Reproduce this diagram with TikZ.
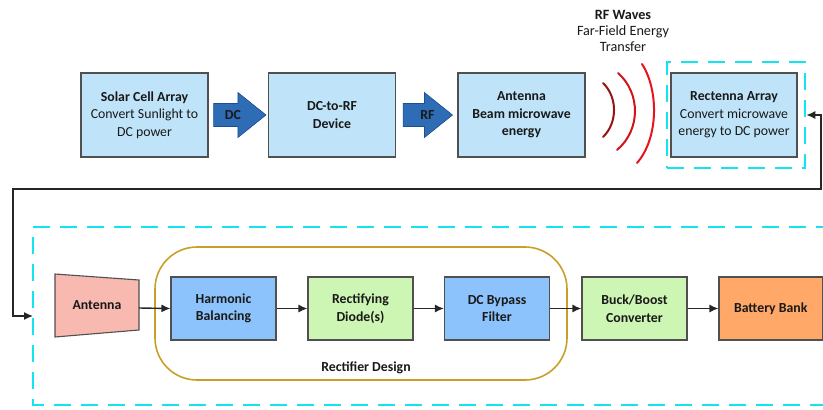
\documentclass[tikz,border=0pt]{standalone}
\usepackage{fontspec}
\setmainfont{Carlito}
\usetikzlibrary{calc,arrows.meta}
\definecolor{topfill}{RGB}{191,228,249}
\definecolor{boxedge}{RGB}{80,80,80}
\definecolor{bluefill}{RGB}{141,195,252}
\definecolor{greenfill}{RGB}{205,245,180}
\definecolor{orangefill}{RGB}{255,168,104}
\definecolor{pinkfill}{RGB}{248,185,177}
\definecolor{dashcyan}{RGB}{20,228,240}
\definecolor{goldline}{RGB}{200,160,40}
\definecolor{arrowblue}{RGB}{46,109,181}
\definecolor{arrowedge}{RGB}{30,78,140}
\definecolor{txt}{RGB}{25,25,25}
\begin{document}
\begin{tikzpicture}[x=1pt,y=-1pt,
  font=\fontsize{13.8}{17.5}\selectfont, text=txt,
  topbox/.style={draw=boxedge, line width=1.1pt, fill=topfill, minimum width=127pt, minimum height=84pt, inner sep=0pt, align=center},
  botbox/.style={draw=boxedge, line width=1.1pt, minimum width=105pt, minimum height=63pt, inner sep=0pt, align=center, font=\fontsize{13.8}{17.5}\selectfont\bfseries},
  boldlab/.style={font=\fontsize{13.8}{17.5}\selectfont\bfseries},
  dashbox/.style={draw=dashcyan, line width=2.6pt, dash pattern=on 17pt off 10pt},
  blockarrow/.style={fill=arrowblue, draw=arrowedge, line width=0.6pt},
  conn/.style={draw=black!85, line width=1.4pt, -{Latex[length=9pt,width=8pt]}},
  wave/.style={line width=2pt, line cap=round}
]
\useasboundingbox (0,0) rectangle (823,410);
\clip (0,0) rectangle (823,410);

% top row
\node[topbox] (solar) at (144.5,115) {\textbf{Solar Cell Array}\\Convert Sunlight to\\DC power};
\node[topbox] (dcrf) at (332,115) {\textbf{DC-to-RF}\\\textbf{Device}};
\node[topbox] (ant1) at (521.5,115) {\textbf{Antenna}\\\textbf{Beam microwave}\\\textbf{energy}};
\node[dashbox, minimum width=138pt, minimum height=106pt] (rectdash) at (736,115) {};
\node[topbox, minimum width=126pt] (rect) at (734,115) {\textbf{Rectenna Array}\\Convert microwave\\energy to DC power};

% block arrows
\path (solar.east) ++(5,0) coordinate (a1s);
\path (dcrf.west) ++(-2,0) coordinate (a1e);
\draw[blockarrow] ($(a1s)+(0,-11.5)$) -- ($(a1e)+(-28,-11.5)$) -- ($(a1e)+(-28,-22.5)$) -- (a1e)
  -- ($(a1e)+(-28,22.5)$) -- ($(a1e)+(-28,11.5)$) -- ($(a1s)+(0,11.5)$) -- cycle;
\node[boldlab] (dclab) at ($(a1e)+(-33,0)$) {DC};

\path (dcrf.east) ++(7,0) coordinate (a2s);
\path (ant1.west) ++(-5,0) coordinate (a2e);
\draw[blockarrow] ($(a2s)+(0,-11.5)$) -- ($(a2e)+(-28,-11.5)$) -- ($(a2e)+(-28,-22.5)$) -- (a2e)
  -- ($(a2e)+(-28,22.5)$) -- ($(a2e)+(-28,11.5)$) -- ($(a2s)+(0,11.5)$) -- cycle;
\node[boldlab] (rflab) at ($(a2e)+(-25,0)$) {RF};

% RF waves
\node[align=center, font=\fontsize{14.2}{16.2}\selectfont] (rfw) at (623,31) {\textbf{RF Waves}\\Far-Field Energy\\Transfer};
\draw[wave, color={rgb,255:red,150;green,20;blue,20}] (603,83) .. controls (617.7,97) and (617.7,123) .. (603,137);
\draw[wave, color={rgb,255:red,210;green,20;blue,25}] (618,73) .. controls (640.8,93) and (640.8,130) .. (617,150);
\draw[wave, color={rgb,255:red,232;green,20;blue,27}] (642,64) .. controls (658.8,90) and (658.8,138) .. (637,163);

% bottom region
\draw[dashbox] (860,227) -- (33,227) -- (33,405) -- (860,405);
\coordinate (bigW) at (33,316);

\node[draw=goldline, line width=1.6pt, rounded corners=42pt, minimum width=412pt, minimum height=133pt] (rdesign) at (361,313.5) {};
\node[boldlab] (rdlabel) at (366,368) {Rectifier Design};

\draw[draw=boxedge, line width=1.1pt, fill=pinkfill] (55,274) -- (139,280) -- (139,330) -- (55,337) -- cycle;
\node[boldlab] (ant2) at (97,305) {Antenna};
\coordinate (ant2E) at (139,308);

\node[botbox, fill=bluefill] (harm) at (223.5,308.5) {Harmonic\\Balancing};
\node[botbox, fill=greenfill] (diode) at (360.5,308.5) {Rectifying\\Diode(s)};
\node[botbox, fill=bluefill] (dcbp) at (497,308.5) {DC Bypass\\Filter};
\node[botbox, fill=greenfill] (buck) at (634.5,308.5) {Buck/Boost\\Converter};
\node[botbox, fill=orangefill, minimum width=103.5pt] (batt) at (770.75,308.5) {Battery Bank};

\draw[conn] (ant2E) -- (harm.west);
\draw[conn] (harm) -- (diode);
\draw[conn] (diode) -- (dcbp);
\draw[conn] (dcbp) -- (buck);
\draw[conn] (buck) -- (batt);

% feedback line
\coordinate (fbA) at (821,189);
\coordinate (fbB) at (13,189);
\coordinate (fbC) at (13,316);
\draw[draw=black!85, line width=1.4pt, {Latex[length=9pt,width=8pt]}-{Latex[length=9pt,width=8pt]}]
  (rectdash.east) -| (fbA) -- (fbB) -- (fbC) -- (bigW);
\end{tikzpicture}
\end{document}
